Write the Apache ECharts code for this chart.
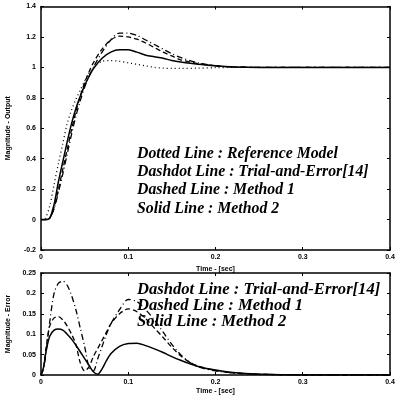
<!DOCTYPE html>
<html>
<head>
<meta charset="utf-8">
<script src="https://cdn.jsdelivr.net/npm/echarts@6/dist/echarts.min.js"></script>
<style>
  html, body { margin: 0; padding: 0; background: #fff; }
  #main { width: 397px; height: 397px; }
</style>
</head>
<body>
<div id="main"></div>
<script>
// step response (upper plot)
var tOut = [0, 0.005, 0.01, 0.015, 0.02, 0.025, 0.03, 0.035, 0.04, 0.045, 0.05, 0.055, 0.06, 0.07, 0.08, 0.09, 0.1, 0.11, 0.12, 0.13, 0.14, 0.15, 0.16, 0.18, 0.2, 0.22, 0.25, 0.3, 0.35, 0.4];
var refModel = [0, 0.01, 0.09, 0.23, 0.37, 0.5, 0.63, 0.72, 0.79, 0.85, 0.91, 0.96, 1.0, 1.04, 1.045, 1.04, 1.03, 1.02, 1.01, 1.0, 0.995, 0.993, 0.993, 0.995, 0.998, 1.0, 1.0, 1.0, 1.0, 1.0];
var trialOut = [0, 0, 0.01, 0.07, 0.18, 0.3, 0.43, 0.56, 0.68, 0.78, 0.87, 0.94, 1.0, 1.1, 1.18, 1.225, 1.225, 1.21, 1.18, 1.15, 1.12, 1.09, 1.065, 1.03, 1.01, 1.003, 1.0, 1.0, 1.0, 1.0];
var method1Out = [0, 0, 0.01, 0.08, 0.2, 0.33, 0.46, 0.59, 0.71, 0.81, 0.9, 0.97, 1.03, 1.12, 1.18, 1.205, 1.2, 1.185, 1.16, 1.13, 1.1, 1.075, 1.05, 1.025, 1.01, 1.003, 1.0, 1.0, 1.0, 1.0];
var method2Out = [0, 0, 0.01, 0.1, 0.25, 0.38, 0.51, 0.63, 0.73, 0.81, 0.88, 0.94, 0.99, 1.06, 1.1, 1.115, 1.115, 1.1, 1.08, 1.07, 1.06, 1.045, 1.035, 1.02, 1.01, 1.003, 1.0, 1.0, 1.0, 1.0];

// error magnitude (lower plot)
var tErr = [0, 0.003, 0.006, 0.01, 0.015, 0.02, 0.025, 0.03, 0.035, 0.04, 0.045, 0.05, 0.055, 0.06, 0.065, 0.07, 0.075, 0.08, 0.09, 0.1, 0.11, 0.12, 0.13, 0.14, 0.15, 0.16, 0.17, 0.18, 0.2, 0.22, 0.25, 0.3, 0.35, 0.4];
var trialErr = [0, 0.015, 0.06, 0.13, 0.2, 0.225, 0.23, 0.22, 0.195, 0.16, 0.115, 0.07, 0.02, 0.01, 0.04, 0.07, 0.1, 0.125, 0.16, 0.185, 0.18, 0.16, 0.135, 0.105, 0.075, 0.05, 0.032, 0.02, 0.01, 0.005, 0.002, 0, 0, 0];
var method1Err = [0, 0.02, 0.07, 0.12, 0.14, 0.143, 0.135, 0.12, 0.1, 0.075, 0.03, 0.01, 0.02, 0.045, 0.065, 0.085, 0.105, 0.125, 0.15, 0.162, 0.155, 0.138, 0.115, 0.092, 0.068, 0.047, 0.032, 0.022, 0.011, 0.005, 0.002, 0, 0, 0];
var method2Err = [0, 0.02, 0.06, 0.095, 0.11, 0.113, 0.11, 0.1, 0.088, 0.073, 0.057, 0.04, 0.024, 0.008, 0.002, 0.015, 0.035, 0.052, 0.07, 0.077, 0.078, 0.072, 0.064, 0.055, 0.045, 0.036, 0.028, 0.021, 0.012, 0.006, 0.002, 0, 0, 0];

function pairs(t, v) {
  return t.map(function (x, i) { return [x, v[i]]; });
}

var myChart = echarts.init(document.getElementById('main'));

var lblFont = { color: '#000', fontSize: 7, fontWeight: 'bold', fontFamily: 'Liberation Sans' };
var topFont = 'italic bold 15.8px "Liberation Serif"';
var botFont = 'italic bold 16.6px "Liberation Serif"';
var frame = { onZero: false, lineStyle: { color: '#000', width: 1.5 } };
var tick = { inside: true, length: 3, lineStyle: { color: '#000' } };

function xAx(idx) {
  return {
    type: 'value', gridIndex: idx, min: 0, max: 0.4, interval: 0.1,
    name: 'Time - [sec]', nameLocation: 'middle', nameGap: 13,
    nameTextStyle: lblFont,
    axisLine: frame, axisTick: tick,
    axisLabel: Object.assign({ margin: 4 }, lblFont),
    splitLine: { show: false }
  };
}
function xTop(idx) {
  return {
    type: 'value', gridIndex: idx, position: 'top', min: 0, max: 0.4, interval: 0.1,
    axisLine: frame, axisTick: tick,
    axisLabel: { show: false }, splitLine: { show: false }
  };
}
function yRight(idx, lo, hi, step) {
  return {
    type: 'value', gridIndex: idx, position: 'right', min: lo, max: hi, interval: step,
    axisLine: frame, axisTick: tick,
    axisLabel: { show: false }, splitLine: { show: false }
  };
}

option = {
  animation: false,
  backgroundColor: '#fff',
  grid: [
    { left: 41, right: 7, top: 6.5, height: 243.5, outerBoundsMode: 'none' },
    { left: 41, right: 7, top: 273, height: 102, outerBoundsMode: 'none' }
  ],
  xAxis: [xAx(0), xTop(0), xAx(1), xTop(1)],
  yAxis: [
    {
      type: 'value', gridIndex: 0, min: -0.2, max: 1.4, interval: 0.2,
      name: 'Magnitude - Output', nameLocation: 'middle', nameGap: 29,
      nameTextStyle: lblFont,
      axisLine: frame, axisTick: tick,
      axisLabel: Object.assign({ margin: 5 }, lblFont),
      splitLine: { show: false }
    },
    yRight(0, -0.2, 1.4, 0.2),
    {
      type: 'value', gridIndex: 1, min: 0, max: 0.25, interval: 0.05,
      name: 'Magnitude - Error', nameLocation: 'middle', nameGap: 29,
      nameTextStyle: lblFont,
      axisLine: frame, axisTick: tick,
      axisLabel: Object.assign({ margin: 5 }, lblFont),
      splitLine: { show: false }
    },
    yRight(1, 0, 0.25, 0.05)
  ],
  graphic: [
    { type: 'text', left: 137, top: 146, style: { text: 'Dotted Line : Reference Model', font: topFont, fill: '#000' } },
    { type: 'text', left: 137, top: 164, style: { text: 'Dashdot Line : Trial-and-Error[14]', font: topFont, fill: '#000' } },
    { type: 'text', left: 137, top: 182, style: { text: 'Dashed Line : Method 1', font: topFont, fill: '#000' } },
    { type: 'text', left: 137, top: 201, style: { text: 'Solid Line : Method 2', font: topFont, fill: '#000' } },
    { type: 'text', left: 137, top: 281, style: { text: 'Dashdot Line : Trial-and-Error[14]', font: botFont, fill: '#000' } },
    { type: 'text', left: 137, top: 297, style: { text: 'Dashed Line : Method 1', font: botFont, fill: '#000' } },
    { type: 'text', left: 137, top: 313, style: { text: 'Solid Line : Method 2', font: botFont, fill: '#000' } }
  ],
  series: [
    { type: 'line', xAxisIndex: 0, yAxisIndex: 0, data: pairs(tOut, refModel), showSymbol: false, smooth: 0.3,
      lineStyle: { color: '#000', width: 1.3, type: [1, 3] } },
    { type: 'line', xAxisIndex: 0, yAxisIndex: 0, data: pairs(tOut, trialOut), showSymbol: false, smooth: 0.3,
      lineStyle: { color: '#000', width: 1.3, type: [6, 3, 1, 3] } },
    { type: 'line', xAxisIndex: 0, yAxisIndex: 0, data: pairs(tOut, method1Out), showSymbol: false, smooth: 0.3,
      lineStyle: { color: '#000', width: 1.3, type: [5, 3] } },
    { type: 'line', xAxisIndex: 0, yAxisIndex: 0, data: pairs(tOut, method2Out), showSymbol: false, smooth: 0.3,
      lineStyle: { color: '#000', width: 1.5 } },
    { type: 'line', xAxisIndex: 2, yAxisIndex: 2, data: pairs(tErr, trialErr), showSymbol: false, smooth: 0.3,
      lineStyle: { color: '#000', width: 1.3, type: [6, 3, 1, 3] } },
    { type: 'line', xAxisIndex: 2, yAxisIndex: 2, data: pairs(tErr, method1Err), showSymbol: false, smooth: 0.3,
      lineStyle: { color: '#000', width: 1.3, type: [5, 3] } },
    { type: 'line', xAxisIndex: 2, yAxisIndex: 2, data: pairs(tErr, method2Err), showSymbol: false, smooth: 0.3,
      lineStyle: { color: '#000', width: 1.5 } }
  ]
};

myChart.setOption(option);
</script>
</body>
</html>
